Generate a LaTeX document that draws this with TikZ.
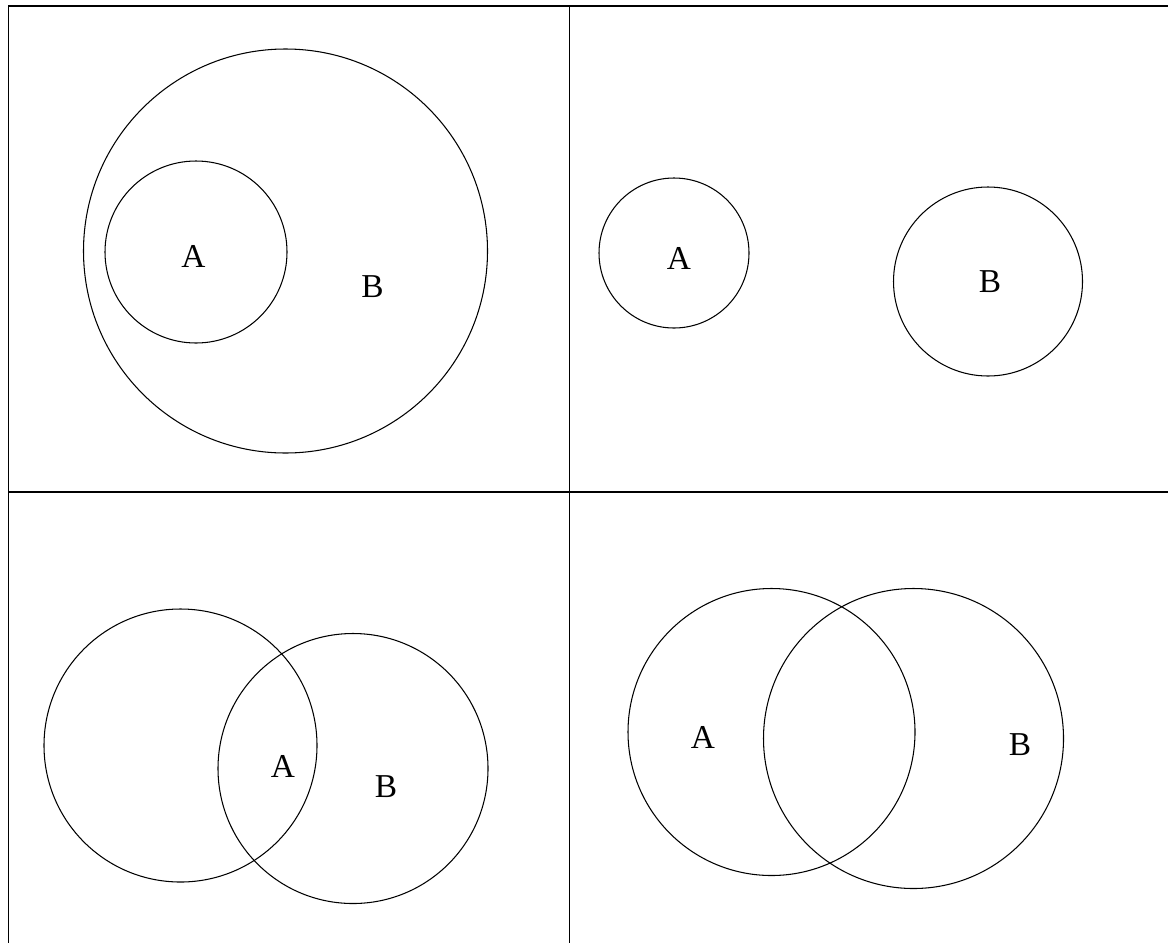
\documentclass[tikz,border=0pt]{standalone}
\usepackage{fontspec}
\setmainfont{Liberation Serif}
\begin{document}
\begin{tikzpicture}[x=0.02cm,y=-0.02cm,
  ring/.style={draw=black,line width=0.6pt},
  frame/.style={draw=black,line width=0.6pt},
  lbl/.style={font=\fontsize{19}{22}\selectfont,anchor=base,inner sep=0pt}]
\useasboundingbox (0,0) rectangle (1168,943);
% frame lines
\coordinate (tl) at (8.5,6);
\coordinate (tr) at (1168,6);
\coordinate (bl) at (8.5,943);
\coordinate (mt) at (569.5,6);
\coordinate (mb) at (569.5,943);
\coordinate (ml) at (8.5,492);
\coordinate (mr) at (1168,492);
\draw[frame] (tr) -- (tl) -- (bl);
\draw[frame] (mt) -- (mb);
\draw[frame] (ml) -- (mr);
% top-left
\draw[ring] (285.5,251) circle (202);
\draw[ring] (196,252) circle (91);
\node[lbl] (tlA) at (193.5,267) {A};
\node[lbl] (tlB) at (372.5,297.5) {B};
% top-right
\draw[ring] (674,253) circle (75);
\draw[ring] (988,281.5) circle (94.5);
\node[lbl] (trA) at (679,269.5) {A};
\node[lbl] (trB) at (990,292.5) {B};
% bottom-left
\draw[ring] (180.5,745.5) circle (136.5);
\draw[ring] (353,768.5) circle (135);
\node[lbl] (blA) at (283,777.5) {A};
\node[lbl] (blB) at (386,797.5) {B};
% bottom-right
\draw[ring] (771.5,732) circle (143.5);
\draw[ring] (913.5,738.5) circle (150);
\node[lbl] (brA) at (703,748.5) {A};
\node[lbl] (brB) at (1020,755.5) {B};
\end{tikzpicture}
\end{document}
